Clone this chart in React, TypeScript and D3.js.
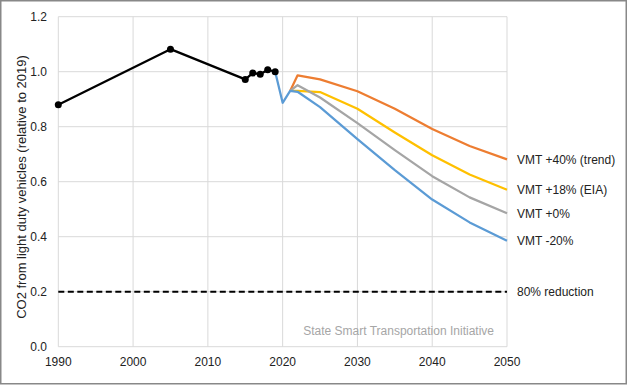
import React, { useEffect } from 'react';
import * as d3 from 'd3';

// historical CO2 (relative to 2019)
const histYears = [1990, 2005, 2015, 2016, 2017, 2018, 2019];
const histValues = [0.88, 1.082, 0.972, 0.995, 0.991, 1.007, 1.0];

// projection scenarios
const projYears = [2019, 2020, 2021, 2022, 2025, 2030, 2035, 2040, 2045, 2050];
const scenarioNames = ['VMT +40% (trend)', 'VMT +18% (EIA)', 'VMT +0%', 'VMT -20%'];
const scenarioColors = ['#ED7D31', '#FFC000', '#A5A5A5', '#5B9BD5'];
const vmt40 = [null, null, 0.93, 0.987, 0.972, 0.929, 0.865, 0.792, 0.73, 0.681];
const vmt18 = [null, null, 0.93, 0.93, 0.926, 0.865, 0.779, 0.696, 0.626, 0.571];
const vmt0 = [null, null, 0.93, 0.951, 0.906, 0.813, 0.715, 0.62, 0.543, 0.485];
const vmtMinus20 = [1.0, 0.887, 0.93, 0.927, 0.871, 0.755, 0.642, 0.535, 0.452, 0.385];
const scenarioValues = [vmt40, vmt18, vmt0, vmtMinus20];

const targetValue = 0.2;
const targetLabel = '80% reduction';

const xTicks = [1990, 2000, 2010, 2020, 2030, 2040, 2050];
const yTicks = [0, 0.2, 0.4, 0.6, 0.8, 1.0, 1.2];

const W = 628;
const H = 386;
const FONT = 'Liberation Sans, Arial, sans-serif';

export default function App() {
  useEffect(() => {
    document.body.style.margin = '0';
  }, []);

  const x = d3.scaleLinear().domain([1990, 2050]).range([58.3, 507]);
  const y = d3.scaleLinear().domain([0, 1.2]).range([346.7, 16.7]);

  const line = d3
    .line<[number, number | null]>()
    .defined((d) => d[1] != null)
    .x((d) => x(d[0]))
    .y((d) => y(d[1] as number));

  const histPts = histYears.map((yr, i) => [yr, histValues[i]] as [number, number]);

  return (
    <svg width={W} height={H} style={{ display: 'block', background: '#fff' }}>
      <rect x={0.75} y={0.75} width={625.5} height={383} fill="#fff" stroke="#888" strokeWidth={1.5} />

      {/* grid */}
      {yTicks.map((t) => (
        <line key={'gy' + t} x1={x(1990)} x2={x(2050)} y1={y(t)} y2={y(t)} stroke="#d9d9d9" strokeWidth={1} />
      ))}
      {xTicks.map((t) => (
        <line key={'gx' + t} x1={x(t)} x2={x(t)} y1={y(0)} y2={y(1.2)} stroke="#d9d9d9" strokeWidth={1} />
      ))}

      {/* tick labels */}
      {yTicks.map((t) => (
        <text key={'ly' + t} x={47} y={y(t)} dy="0.35em" textAnchor="end" fontFamily={FONT} fontSize={12} fill="#222">
          {d3.format('.1f')(t)}
        </text>
      ))}
      {xTicks.map((t) => (
        <text key={'lx' + t} x={x(t)} y={366} textAnchor="middle" fontFamily={FONT} fontSize={12} fill="#222">
          {t}
        </text>
      ))}

      <text
        transform={`translate(25.5,187) rotate(-90)`}
        textAnchor="middle"
        fontFamily={FONT}
        fontSize={13}
        fill="#222"
      >
        CO2 from light duty vehicles (relative to 2019)
      </text>

      <text x={494} y={335} textAnchor="end" fontFamily={FONT} fontSize={12} fill="#a6a6a6">
        State Smart Transportation Initiative
      </text>

      {/* 80% reduction target */}
      <line
        x1={x(1990)}
        x2={x(2050)}
        y1={y(targetValue)}
        y2={y(targetValue)}
        stroke="#000"
        strokeWidth={2}
        strokeDasharray="6,3.5"
      />
      <text x={517} y={y(targetValue)} dy="0.35em" fontFamily={FONT} fontSize={12} fill="#222">
        {targetLabel}
      </text>

      {/* scenarios */}
      {scenarioValues.map((vals, i) => {
        const pts = projYears.map((yr, j) => [yr, vals[j]] as [number, number | null]);
        const last = vals[vals.length - 1] as number;
        return (
          <g key={scenarioNames[i]}>
            <path d={line(pts) || ''} fill="none" stroke={scenarioColors[i]} strokeWidth={2.25} strokeLinejoin="round" />
            <text x={517} y={y(last)} dy="0.35em" fontFamily={FONT} fontSize={12} fill="#222">
              {scenarioNames[i]}
            </text>
          </g>
        );
      })}

      {/* historical */}
      <path d={line(histPts) || ''} fill="none" stroke="#000" strokeWidth={2.25} strokeLinejoin="round" />
      {histPts.map((d) => (
        <circle key={'h' + d[0]} cx={x(d[0])} cy={y(d[1])} r={3.5} fill="#000" />
      ))}
    </svg>
  );
}
